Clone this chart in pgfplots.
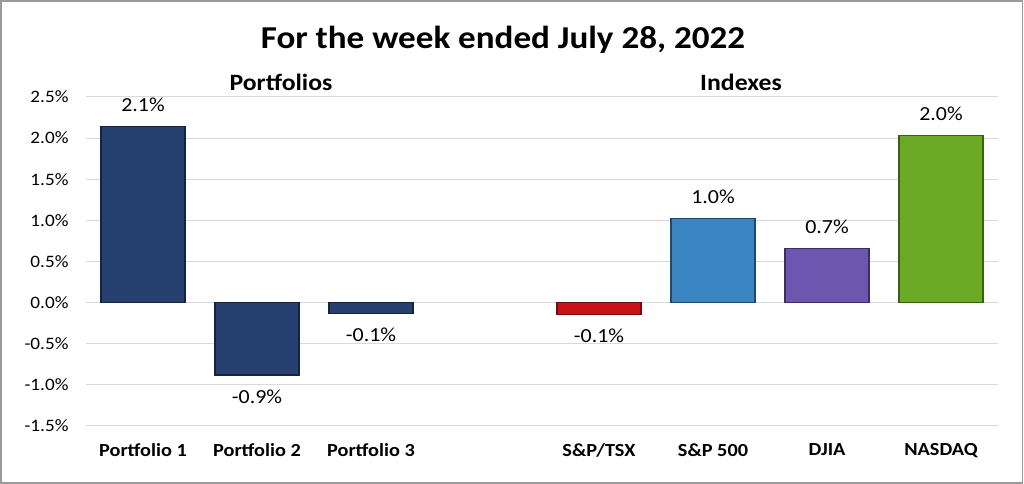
\documentclass[border=0pt]{standalone}
\usepackage{pgfplots}
\pgfplotsset{compat=1.18}
\usepackage{fontspec}
\setmainfont[FakeStretch=1.1]{Carlito}

\definecolor{navy}{RGB}{38,64,112}
\definecolor{tsxred}{RGB}{200,16,24}
\definecolor{spblue}{RGB}{60,133,195}
\definecolor{djpurple}{RGB}{108,86,176}
\definecolor{nqgreen}{RGB}{107,170,36}
\definecolor{gridgray}{RGB}{217,217,217}

\begin{document}
\begin{tikzpicture}[x=1bp,y=1bp]
  \path[use as bounding box] (0,0) rectangle (1024,484);
  \draw[color=black!40,line width=1.5bp] (1,1) rectangle (1022.5,483);
  \node[anchor=base,font=\fontsize{32}{38}\selectfont\bfseries] at (503,435) {For the week ended July 28, 2022};
  \node[anchor=base,font=\fontsize{23.5}{28}\selectfont\bfseries] at (281,393) {Portfolios};
  \node[anchor=base,font=\fontsize{23.5}{28}\selectfont\bfseries] at (741,393) {Indexes};
  \begin{axis}[
      at={(86bp,58bp)},
      anchor=south west,
      scale only axis,
      width=912bp,
      height=329bp,
      ybar,
      bar width=84bp,
      xmin=-0.5, xmax=7.5,
      ymin=-1.5, ymax=2.5,
      xtick={0,1,2,4,5,6,7},
      xticklabels={Portfolio 1,Portfolio 2,Portfolio 3,S\&P/TSX,S\&P 500,DJIA,NASDAQ},
      ytick={-1.5,-1,-0.5,0,0.5,1,1.5,2,2.5},
      yticklabel={\pgfmathprintnumber[fixed,fixed zerofill,precision=1]{\tick}\%},
      /pgf/number format/assume math mode=true,
      ymajorgrids,
      grid style={gridgray,line width=1bp},
      axis line style={draw=none},
      major tick length=0pt,
      tick label style={font=\fontsize{17.5}{21}\selectfont},
      xticklabel style={font=\fontsize{18.5}{22}\selectfont\bfseries,yshift=-14bp},
      yticklabel style={xshift=-14bp},
      nodes near coords={\pgfmathprintnumber[fixed,fixed zerofill,precision=1]{\pgfplotspointmeta}\%},
      every node near coord/.append style={font=\fontsize{20}{24}\selectfont,black,inner sep=14bp},
    ]
    % portfolios
    \addplot[fill=navy,draw=navy!55!black,line width=1.2bp,bar shift=0pt] coordinates {(0,2.14)};
    \addplot[fill=navy,draw=navy!55!black,line width=1.2bp,bar shift=0pt] coordinates {(1,-0.88)};
    \addplot[fill=navy,draw=navy!55!black,line width=1.2bp,bar shift=0pt] coordinates {(2,-0.13)};
    % indexes
    \addplot[fill=tsxred,draw=tsxred!60!black,line width=1.2bp,bar shift=0pt] coordinates {(4,-0.14)};
    \addplot[fill=spblue,draw=spblue!55!black,line width=1.2bp,bar shift=0pt] coordinates {(5,1.02)};
    \addplot[fill=djpurple,draw=djpurple!55!black,line width=1.2bp,bar shift=0pt] coordinates {(6,0.66)};
    \addplot[fill=nqgreen,draw=nqgreen!55!black,line width=1.2bp,bar shift=0pt] coordinates {(7,2.03)};
  \end{axis}
\end{tikzpicture}
\end{document}
